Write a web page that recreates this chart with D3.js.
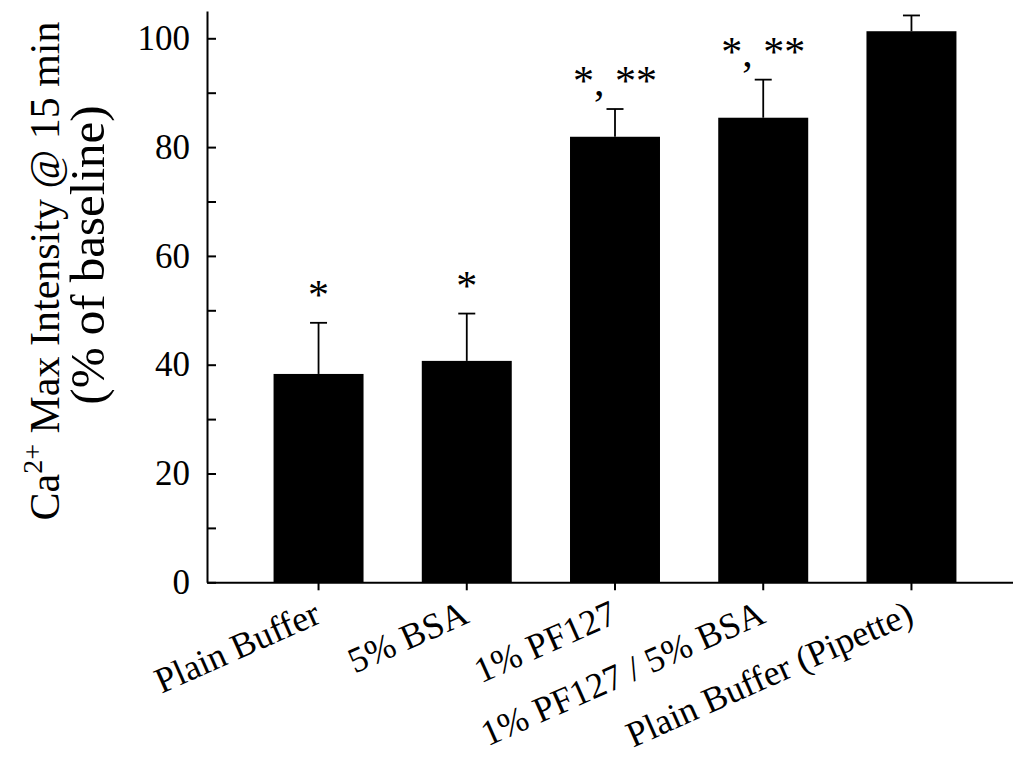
<!DOCTYPE html>
<html>
<head>
<meta charset="utf-8">
<script src="https://cdn.jsdelivr.net/npm/d3@7"></script>
<style>
  body { margin: 0; background: #fff; }
  text { font-family: "Liberation Serif", "Times New Roman", serif; fill: #000; }
</style>
</head>
<body>
<div id="chart"></div>
<script>
// Data
const categories = ["Plain Buffer", "5% BSA", "1% PF127", "1% PF127 / 5% BSA", "Plain Buffer (Pipette)"];
const means = [38.3, 40.7, 81.9, 85.4, 101.3];
const errors = [9.4, 8.7, 5.1, 7.0, 2.9];
const marks = ["*", "*", "*, **", "*, **", ""];
const yTicks = [0, 10, 20, 30, 40, 50, 60, 70, 80, 90, 100];

const data = categories.map((c, i) => ({ name: c, mean: means[i], err: errors[i], mark: marks[i] }));

const width = 1013, height = 758;

const svg = d3.select("#chart").append("svg")
    .attr("width", width)
    .attr("height", height);

// Scales
const x = d3.scaleBand()
    .domain(categories)
    .range([207, 1023])
    .paddingInner(0.393)
    .paddingOuter(0.449);

const y = d3.scaleLinear()
    .domain([0, 105])
    .range([582.3, 11.1]);

// Bars
svg.selectAll(".bar")
    .data(data)
  .enter().append("rect")
    .attr("class", "bar")
    .attr("x", d => x(d.name))
    .attr("y", d => y(d.mean))
    .attr("width", x.bandwidth())
    .attr("height", d => y(0) - y(d.mean))
    .attr("fill", "#000");

// Error bars (upper only)
const capW = 17;
svg.selectAll(".err")
    .data(data)
  .enter().append("line")
    .attr("class", "err")
    .attr("x1", d => x(d.name) + x.bandwidth() / 2)
    .attr("x2", d => x(d.name) + x.bandwidth() / 2)
    .attr("y1", d => y(d.mean))
    .attr("y2", d => y(d.mean + d.err))
    .attr("stroke", "#000")
    .attr("stroke-width", 1.8);

svg.selectAll(".cap")
    .data(data)
  .enter().append("line")
    .attr("class", "cap")
    .attr("x1", d => x(d.name) + x.bandwidth() / 2 - capW / 2)
    .attr("x2", d => x(d.name) + x.bandwidth() / 2 + capW / 2)
    .attr("y1", d => y(d.mean + d.err))
    .attr("y2", d => y(d.mean + d.err))
    .attr("stroke", "#000")
    .attr("stroke-width", 1.8);

// Significance marks
svg.selectAll(".mark")
    .data(data)
  .enter().append("text")
    .attr("class", "mark")
    .attr("x", d => x(d.name) + x.bandwidth() / 2)
    .attr("y", d => y(d.mean + d.err) - 14)
    .attr("text-anchor", "middle")
    .attr("font-size", "42px")
    .text(d => d.mark);

// Y axis (ticks inside)
const yAxis = d3.axisLeft(y)
    .tickValues(yTicks)
    .tickSizeInner(-9)
    .tickSizeOuter(0)
    .tickPadding(17)
    .tickFormat(d => d % 20 === 0 ? d : "");

const gy = svg.append("g")
    .attr("transform", "translate(207,0)")
    .call(yAxis);
gy.select(".domain").attr("stroke-width", 2);
gy.selectAll(".tick line").attr("stroke-width", 2);
gy.selectAll(".tick text")
    .attr("font-size", "35px")
    .attr("font-family", "Liberation Serif, Times New Roman, serif");

// X axis (ticks outside)
const xAxis = d3.axisBottom(x)
    .tickSizeInner(8)
    .tickSizeOuter(0)
    .tickFormat("");

const gx = svg.append("g")
    .attr("transform", "translate(0," + y(0) + ")")
    .call(xAxis);
gx.select(".domain").attr("stroke-width", 2);
gx.selectAll(".tick line").attr("stroke-width", 2);

// Rotated category labels
svg.selectAll(".xlabel")
    .data(categories)
  .enter().append("text")
    .attr("class", "xlabel")
    .attr("text-anchor", "end")
    .attr("font-size", "36px")
    .attr("transform", d => "translate(" + (x(d) + x.bandwidth() / 2 + 4) + ",622) rotate(-24)")
    .text(d => d);

// Y axis title, two lines
const title = svg.append("text")
    .attr("transform", "translate(59,271) rotate(-90)")
    .attr("text-anchor", "middle")
    .attr("font-size", "42px");
title.append("tspan").text("Ca");
title.append("tspan").attr("font-size", "28px").attr("dy", -17).text("2+");
title.append("tspan").attr("dy", 17).text(" Max Intensity @ 15 min");

svg.append("text")
    .attr("transform", "translate(104,255) rotate(-90)")
    .attr("text-anchor", "middle")
    .attr("font-size", "49px")
    .text("(% of baseline)");
</script>
</body>
</html>
